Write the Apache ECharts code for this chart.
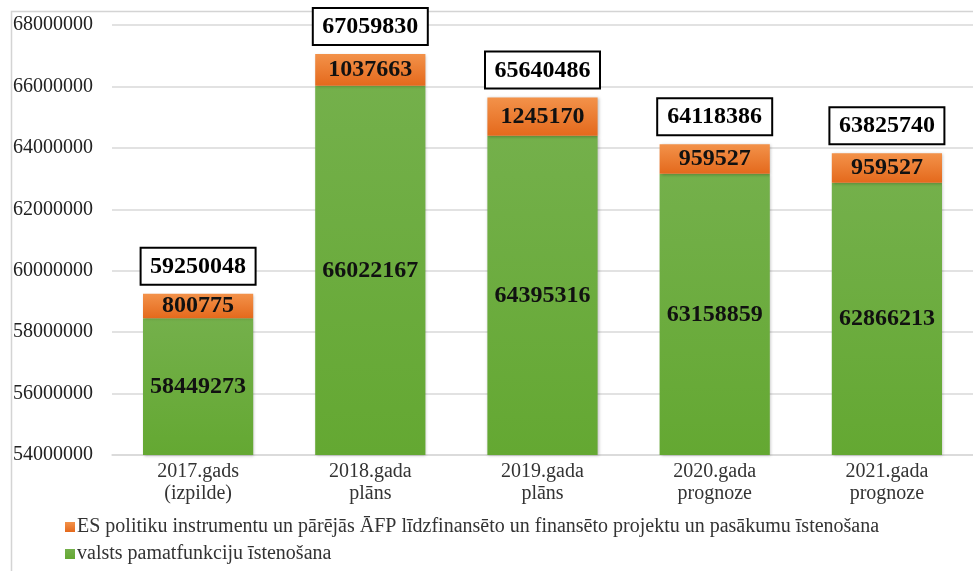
<!DOCTYPE html>
<html><head><meta charset="utf-8">
<script src="https://cdn.jsdelivr.net/npm/echarts@6/dist/echarts.min.js"></script>
<style>html,body{margin:0;padding:0;background:#fff}#c{width:973px;height:571px}</style>
</head><body><div id="c"></div>
<script>
const categories = ['2017.gads\n(izpilde)', '2018.gada\nplāns', '2019.gada\nplāns', '2020.gada\nprognoze', '2021.gada\nprognoze'];
const baseValues = [58449273, 66022167, 64395316, 63158859, 62866213];
const euValues = [800775, 1037663, 1245170, 959527, 959527];
const totals = baseValues.map((v, i) => v + euValues[i]);
const seriesNames = ['ES politiku instrumentu un pārējās ĀFP līdzfinansēto un finansēto projektu un pasākumu īstenošana', 'valsts pamatfunkciju īstenošana'];
const yMin = 54000000, yMax = 68000000, yStep = 2000000;

const serif = '"Liberation Serif", "Times New Roman", serif';
const chart = echarts.init(document.getElementById('c'));
chart.setOption({
  animation: false,
  backgroundColor: '#fff',
  graphic: [{
    type: 'rect', left: 9, top: 9, shape: { width: 1000, height: 600 },
    style: { fill: 'none', stroke: '#d4d4d4', lineWidth: 1.5 }, silent: true, z: -1
  }],
  grid: { left: 112, right: -16, top: 25, bottom: 116 },
  legend: {
    orient: 'vertical', left: 60, top: 512, itemGap: 7,
    itemWidth: 10, itemHeight: 10, icon: 'rect',
    data: [seriesNames[0], seriesNames[1]],
    textStyle: { fontFamily: serif, fontSize: 20, color: '#333', padding: [0, 0, 0, -3] }
  },
  xAxis: {
    type: 'category', data: categories,
    axisLine: { show: true, lineStyle: { color: '#d9d9d9', width: 1.5 } },
    axisTick: { show: false },
    axisLabel: { fontFamily: serif, fontSize: 20, color: '#333', lineHeight: 22, margin: 6, interval: 0 }
  },
  yAxis: {
    type: 'value', min: yMin, max: yMax, interval: yStep,
    axisLine: { show: false }, axisTick: { show: false },
    axisLabel: { fontFamily: serif, fontSize: 20, color: '#222', align: 'left', margin: 99, formatter: v => String(v) },
    splitLine: { lineStyle: { color: '#d9d9d9', width: 1.5 } }
  },
  series: [
    {
      name: seriesNames[1], type: 'bar', stack: 'a', data: baseValues, barCategoryGap: '36%',
      itemStyle: {
        color: new echarts.graphic.LinearGradient(0, 0, 0, 1, [
          { offset: 0, color: '#74b04b' }, { offset: 1, color: '#64a832' }
        ]),
        shadowColor: 'rgba(0,0,0,0.25)', shadowBlur: 3, shadowOffsetX: 1, shadowOffsetY: 1
      },
      label: { show: true, position: 'inside', fontFamily: serif, fontWeight: 'bold', fontSize: 24, color: '#111' }
    },
    {
      name: seriesNames[0], type: 'bar', stack: 'a', data: euValues,
      itemStyle: {
        color: new echarts.graphic.LinearGradient(0, 0, 0, 1, [
          { offset: 0, color: '#f3924a' }, { offset: 1, color: '#e4691c' }
        ]),
        shadowColor: 'rgba(0,0,0,0.25)', shadowBlur: 3, shadowOffsetX: 1, shadowOffsetY: 1
      },
      label: { show: true, position: 'inside', fontFamily: serif, fontWeight: 'bold', fontSize: 24, color: '#111' }
    },
    {
      name: 'total', type: 'scatter', data: totals, symbolSize: 0, silent: true, z: 5,
      itemStyle: { opacity: 1 },
      label: {
        show: true, position: 'top', distance: 10,
        fontFamily: serif, fontWeight: 'bold', fontSize: 24, color: '#000', opacity: 1,
        backgroundColor: '#fff', borderColor: '#000', borderWidth: 2,
        width: 99, align: 'center', padding: [6, 7, 5, 7]
      }
    }
  ]
});
</script></body></html>
